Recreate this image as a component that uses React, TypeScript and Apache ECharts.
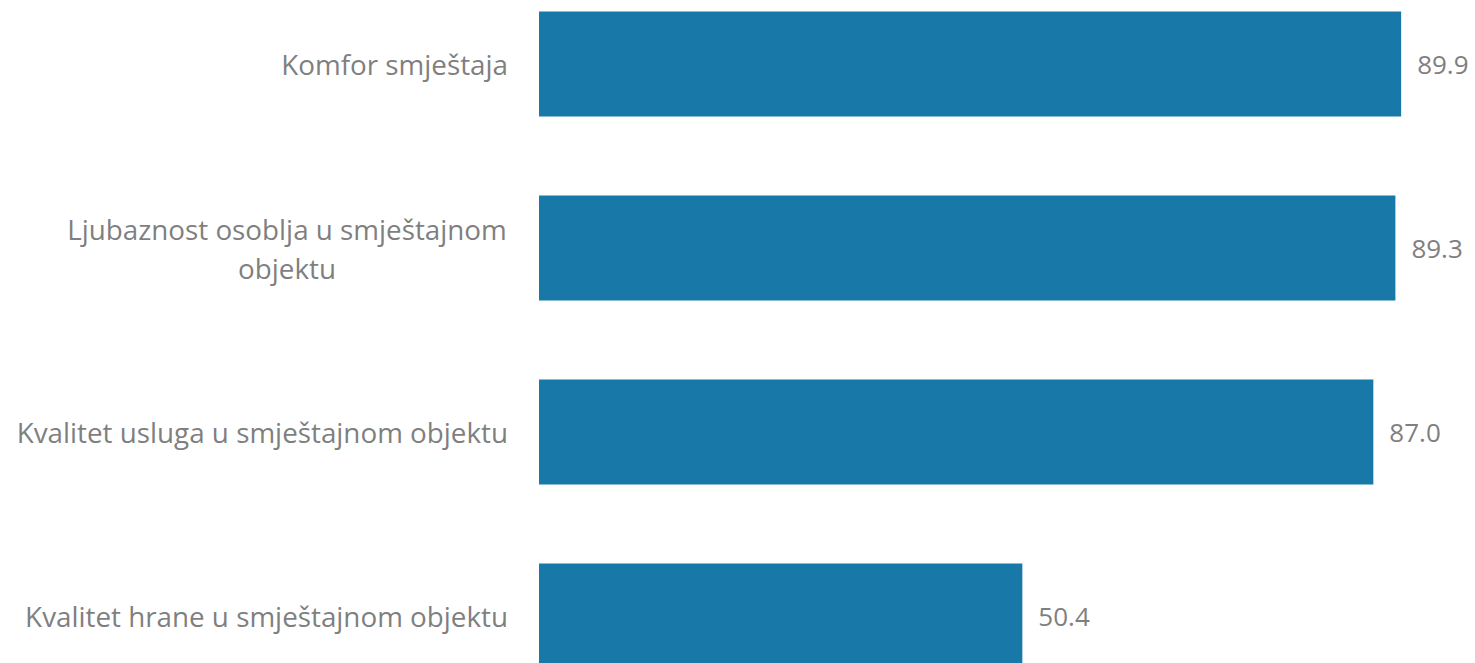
import React, { useEffect, useRef } from "react";
import * as echarts from "echarts";

const categories = [
  "Komfor smještaja",
  "Ljubaznost osoblja u smještajnom\nobjektu",
  "Kvalitet usluga u smještajnom objektu",
  "Kvalitet hrane u smještajnom objektu",
];
const values = [89.9, 89.3, 87.0, 50.4];

const FONT = "Open Sans";
const FS = 27.8;
const VFS = 26;
const GRAY = "#7f7f7f";
const BAR = "#1878a8";

export default function App() {
  const ref = useRef<HTMLDivElement>(null);
  useEffect(() => {
    if (!ref.current) return;
    const chart = echarts.init(ref.current, undefined, { renderer: "svg" });
    const ctx = document.createElement("canvas").getContext("2d")!;
    ctx.font = `${FS}px "${FONT}"`;
    const measure = (s: string) => Math.ceil(ctx.measureText(s).width) + 2;
    chart.setOption({
      animation: false,
      grid: { left: 539, right: 0, top: 0, bottom: 0, containLabel: false },
      xAxis: { type: "value", min: 0, max: 100, show: false },
      yAxis: {
        type: "category",
        inverse: true,
        data: categories,
        axisLine: { show: false },
        axisTick: { show: false },
        axisLabel: {
          margin: 31,
          color: GRAY,
          fontFamily: FONT,
          fontSize: FS,
          lineHeight: 39,
          formatter: (v: string) => {
            if (v.indexOf("\n") >= 0) {
              return v.split("\n").map((l) => `{c|${l}}`).join("\n");
            }
            return v;
          },
          rich: {
            c: {
              width: measure("Ljubaznost osoblja u smještajnom"),
              align: "center",
              color: GRAY,
              fontFamily: FONT,
              fontSize: FS,
              lineHeight: 39,
            },
          },
        },
      },
      series: [
        {
          type: "bar",
          data: values,
          barWidth: 105,
          itemStyle: { color: BAR },
          label: {
            show: true,
            position: "right",
            distance: 16,
            color: GRAY,
            fontFamily: FONT,
            fontSize: VFS,
            formatter: (p: any) => Number(p.value).toFixed(1),
          },
        },
      ],
    });
    return () => chart.dispose();
  }, []);
  return (
    <div style={{ position: "fixed", left: 0, top: 0, width: 1475, height: 663, overflow: "hidden", background: "#fff" }}>
      <div ref={ref} style={{ position: "absolute", left: 0, top: -28.5, width: 1497.7, height: 736 }} />
    </div>
  );
}
